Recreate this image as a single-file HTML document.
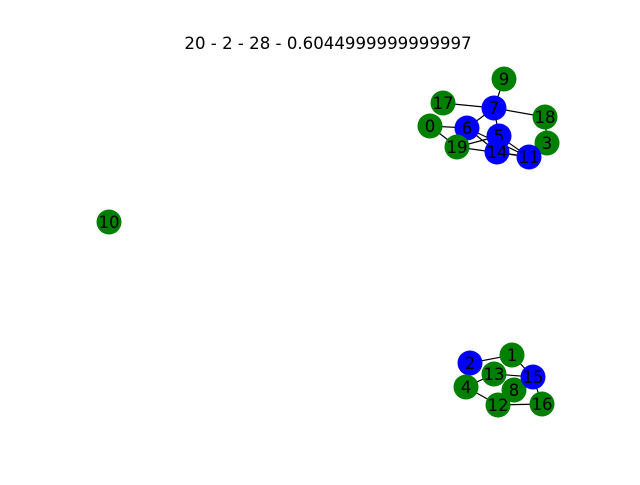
<!DOCTYPE html>
<html><head><meta charset="utf-8"><style>
body{margin:0;background:#fff}
svg text{font-family:"DejaVu Sans",sans-serif}
</style></head><body>
<svg width="640" height="480">
<text x="328" y="49" text-anchor="middle" font-size="16.6">20 - 2 - 28 - 0.6044999999999997</text>
<g id="edges"></g>
<g id="nodes"></g>
</svg>
<script>
const nodeIds=[0,1,2,3,4,5,6,7,8,9,10,11,12,13,14,15,16,17,18,19];
const nodeX=[430,512,470,547,466,499,467,494,514,504,109,529,498,494,497,533,542,443,545,457];
const nodeY=[126,355,363,143,387,136,128,108,390,79,222,157,405,374,152,377,404,103,117,147];
const nodeColor=["g","g","b","g","g","b","b","b","g","g","g","b","g","g","b","b","g","g","g","g"];
const edgeList=[[9,7],[17,7],[7,18],[7,6],[7,5],[18,3],[0,6],[0,19],[6,14],[19,5],[19,11],[5,11],[14,11],[6,11],
[2,1],[1,15],[13,15],[4,13],[4,12],[12,16],[16,15],[8,15]];
const NS="http://www.w3.org/2000/svg";
const eg=document.getElementById('edges'),ng=document.getElementById('nodes');
edgeList.forEach(([a,b])=>{
 const l=document.createElementNS(NS,'line');
 l.setAttribute('x1',nodeX[a]);l.setAttribute('y1',nodeY[a]);
 l.setAttribute('x2',nodeX[b]);l.setAttribute('y2',nodeY[b]);
 l.setAttribute('stroke','#000');l.setAttribute('stroke-width','1.2');
 
 
 eg.appendChild(l);
});
nodeIds.forEach((id,i)=>{
 const c=document.createElementNS(NS,'circle');
 c.setAttribute('cx',nodeX[i]);c.setAttribute('cy',nodeY[i]);c.setAttribute('r',12.5);
 c.setAttribute('fill',nodeColor[i]==='b'?'#0000ff':'#008000');
 
 
 ng.appendChild(c);
 const t=document.createElementNS(NS,'text');
 t.setAttribute('x',nodeX[i]);t.setAttribute('y',nodeY[i]+6);
 t.setAttribute('text-anchor','middle');t.setAttribute('font-size','16.6');
 t.textContent=id;
 
 
 ng.appendChild(t);
});
</script>
</body></html>
